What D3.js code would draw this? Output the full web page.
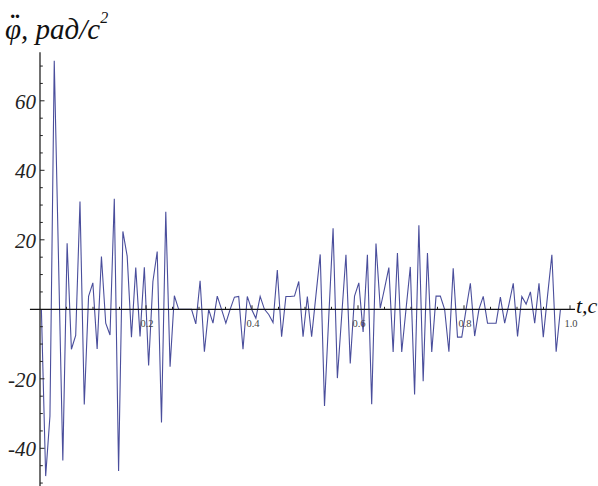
<!DOCTYPE html>
<html>
<head>
<meta charset="utf-8">
<script src="https://cdn.jsdelivr.net/npm/d3@7"></script>
<style>
  html, body { margin: 0; padding: 0; background: #fff; }
  svg { display: block; }
</style>
</head>
<body>
<svg id="chart" width="598" height="486"></svg>
<script>
// ---- data ----
const T0 = 0.0026;          // time of first sample, s
const DT = 0.008094;        // sampling step, s
const accel = [
  0, -48, -30.7, 71.5, 14, -43.5, 19, -11.5, -7.5, 31,
  -27.4, 3.7, 7.6, -11.4, 15.2, -4, -7.4, 31.8, -46.5, 22.4,
  15.3, -8, 12, -7.8, 12.1, -16.2, 8, 16.6, -32.6, 28.1,
  -16.5, 3.9, 0, 0, 0, 0, -4.2, 8.2, -12.2, 0,
  -4, 3.8, 0, -4, 0, 3.5, 3.7, -11.5, 3.7, 0,
  -2.6, 3.7, 0, -1.5, -3.8, 11.3, -7.9, 3.7, 3.7, 3.8,
  8, -7.9, 3.7, -7.9, 4, 15.8, -27.8, -2, 23.3, -19.8,
  -2, 15.7, -15.6, 3.8, 7.6, -6.5, 15.7, -27.3, 18.9, 0.3,
  6, 12, -12.3, 16.2, -12.3, 0, 12.2, -24.5, 24.2, -20.7,
  16.2, -12.3, 3.8, 3.8, 0, -12.2, 11.8, -8, -8, 0,
  7.5, -7.7, 0, 3.7, -4, -4, -4, 3.5, -4, 1.5,
  7.5, -7.8, 3.7, 1.5, 5, -4, 7.5, -8, 4, 15.7,
  -12.2, 0
];
const xMajorTicks = [0.2, 0.4, 0.6, 0.8, 1.0];
const xTickLabels = ["0.2", "0.4", "0.6", "0.8", "1.0"];
const yMajorTicks = [-40, -20, 20, 40, 60];
const yTickLabels = ["-40", "-20", "20", "40", "60"];
const yAxisSymbol = "φ";
const yAxisDots = "¨";
const yAxisUnits = ", рад/с";
const yAxisLabelSup = "2";
const xAxisLabel = "t,c";

// ---- drawing ----
const svg = d3.select("#chart");
const x = d3.scaleLinear().domain([0, 1]).range([40, 570]);
const y = d3.scaleLinear().domain([0, 60]).range([309.3, 100.8]);

const xDomainFull = [-0.019, 1.0095];
const yDomainFull = [74, -50.9];

const series = accel.map((v, i) => ({ t: T0 + i * DT, v }));

// data line
svg.append("path")
  .datum(series)
  .attr("fill", "none")
  .attr("stroke", "#4a4e9c")
  .attr("stroke-width", 1.1)
  .attr("stroke-linejoin", "miter")
  .attr("d", d3.line().x(d => x(d.t)).y(d => y(d.v)));

// axes lines
const axisColor = "#111";
svg.append("line")
  .attr("x1", x(xDomainFull[0])).attr("x2", x(xDomainFull[1]))
  .attr("y1", y(0)).attr("y2", y(0))
  .attr("stroke", axisColor).attr("stroke-width", 1.2);
svg.append("line")
  .attr("x1", x(0)).attr("x2", x(0))
  .attr("y1", y(yDomainFull[0])).attr("y2", y(yDomainFull[1]))
  .attr("stroke", axisColor).attr("stroke-width", 1.2);

// x ticks (pointing up), minor every 0.05
const xMinor = d3.range(1, 21).map(k => k * 0.05);
svg.append("g").selectAll("line")
  .data(xMinor)
  .join("line")
  .attr("x1", d => x(d)).attr("x2", d => x(d))
  .attr("y1", y(0))
  .attr("y2", d => y(0) - (xMajorTicks.some(m => Math.abs(m - d) < 1e-6) ? 4 : 2.5))
  .attr("stroke", "#222").attr("stroke-width", 1);

// y ticks (pointing right), minor every 5
const yMinor = d3.range(-50, 75, 5).filter(v => v !== 0);
svg.append("g").selectAll("line")
  .data(yMinor)
  .join("line")
  .attr("x1", x(0)).attr("x2", d => x(0) + (d % 20 === 0 ? 4.5 : 2.8))
  .attr("y1", d => y(d)).attr("y2", d => y(d))
  .attr("stroke", "#222").attr("stroke-width", 1);

// x tick labels
svg.append("g").selectAll("text")
  .data(xMajorTicks)
  .join("text")
  .attr("x", d => x(d) + 1)
  .attr("y", y(0) + 18)
  .attr("text-anchor", "middle")
  .attr("font-family", "Liberation Serif, serif")
  .attr("font-size", 10.5)
  .attr("fill", "#444")
  .text((d, i) => xTickLabels[i]);

// y tick labels
svg.append("g").selectAll("text")
  .data(yMajorTicks)
  .join("text")
  .attr("x", x(0) - 4)
  .attr("y", d => y(d) + 8)
  .attr("text-anchor", "end")
  .attr("font-family", "Liberation Serif, serif")
  .attr("font-style", "italic")
  .attr("font-size", 21)
  .attr("fill", "#222")
  .text((d, i) => yTickLabels[i]);

// y axis label: φ with two dots above, units, superscript
const yl = svg.append("text")
  .attr("x", 5)
  .attr("y", 39)
  .attr("font-family", "Liberation Serif, serif")
  .attr("font-style", "italic")
  .attr("font-size", 29)
  .attr("fill", "#111");
yl.append("tspan").text(yAxisSymbol);
yl.append("tspan").text(yAxisUnits);
yl.append("tspan").attr("dy", -16).attr("font-size", 16).text(yAxisLabelSup);

let phiW = 15;
try { phiW = yl.node().getSubStringLength(0, 1); } catch (e) {}
svg.append("text")
  .attr("x", 5 + phiW / 2 + 2)
  .attr("y", 34)
  .attr("text-anchor", "middle")
  .attr("font-family", "Liberation Serif, serif")
  .attr("font-weight", "bold")
  .attr("font-size", 29)
  .attr("fill", "#111")
  .text(yAxisDots);

svg.append("text")
  .attr("x", 576)
  .attr("y", 313)
  .attr("font-family", "Liberation Serif, serif")
  .attr("font-style", "italic")
  .attr("font-size", 22)
  .attr("fill", "#111")
  .text(xAxisLabel);
</script>
</body>
</html>
